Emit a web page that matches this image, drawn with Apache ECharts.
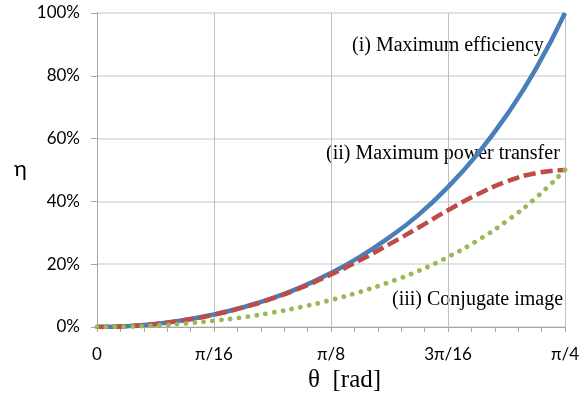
<!DOCTYPE html>
<html>
<head>
<meta charset="utf-8">
<script src="https://cdn.jsdelivr.net/npm/echarts@6/dist/echarts.min.js"></script>
<style>html,body{margin:0;padding:0;background:#fff}#c{width:582px;height:395px}</style>
</head>
<body>
<div id="c"></div>
<script>
// theta in degrees (0 .. 45 = pi/4), sampled every pi/64
var thetaDeg = [0, 2.8125, 5.625, 8.4375, 11.25, 14.0625, 16.875, 19.6875, 22.5, 25.3125, 28.125, 30.9375, 33.75, 36.5625, 39.375, 42.1875, 45];
var maxEfficiency = [0, 0.24, 0.97, 2.2, 4.0, 6.3, 9.2, 12.8, 17.2, 22.4, 28.6, 35.8, 44.6, 55.0, 67.4, 82.1, 100];
var maxPowerTransfer = [0, 0.24, 0.97, 2.2, 3.95, 6.25, 9.1, 12.6, 16.7, 21.3, 26.4, 31.7, 37.2, 42.2, 46.3, 49.0, 50];
var conjugateImage = [0, 0.12, 0.49, 1.1, 2.0, 3.1, 4.6, 6.4, 8.6, 11.2, 14.3, 17.9, 22.3, 27.5, 33.7, 41.1, 50];
var xTickLabels = ['0', 'π/16', 'π/8', '3π/16', 'π/4'];
var seriesNames = ['(i) Maximum efficiency', '(ii) Maximum power transfer', '(iii) Conjugate image'];

function pairs(ys){ return thetaDeg.map(function(x,i){ return [x, ys[i]]; }); }

var chart = echarts.init(document.getElementById('c'), null, {renderer:'canvas'});
var tickFont = 'Lato, "Noto Sans", sans-serif';
var serif = '"Liberation Serif", "DejaVu Serif", serif';
chart.setOption({
  animation: false,
  backgroundColor: '#fff',
  grid: {left: 97, right: 12, top: 13, bottom: 68},
  xAxis: {
    type: 'value', min: 0, max: 45, interval: 11.25,
    axisLine: {show: true, lineStyle: {color: '#a6a6a6', width: 1}},
    axisTick: {show: true, length: 5, lineStyle: {color: '#a6a6a6'}},
    minorTick: {show: true, splitNumber: 5, length: 5, lineStyle: {color: '#a6a6a6'}},
    splitLine: {show: true, lineStyle: {color: '#bfbfbf', width: 1}},
    axisLabel: {
      margin: 19, color: '#000', fontFamily: tickFont, fontSize: 17,
      formatter: function(v){ return xTickLabels[Math.round(v/11.25)]; }
    }
  },
  yAxis: {
    type: 'value', min: 0, max: 100, interval: 20,
    axisLine: {show: true, lineStyle: {color: '#a6a6a6', width: 1}},
    axisTick: {show: true, length: 6, lineStyle: {color: '#a6a6a6'}},
    splitLine: {show: true, lineStyle: {color: '#d9d9d9', width: 1.5}},
    axisLabel: {
      margin: 17, color: '#000', fontFamily: tickFont, fontSize: 17,
      formatter: function(v){ return v + '%'; }
    }
  },
  series: [
    {name: seriesNames[0], type: 'line', smooth: true, symbol: 'none', data: pairs(maxEfficiency),
     lineStyle: {color: '#4a7ebb', width: 4.5}},
    {name: seriesNames[1], type: 'line', smooth: true, symbol: 'none', data: pairs(maxPowerTransfer),
     lineStyle: {color: '#be4b48', width: 4.5, type: [12, 5]}},
    {name: seriesNames[2], type: 'line', smooth: true, symbol: 'none', data: pairs(conjugateImage),
     lineStyle: {color: '#98b954', width: 4.8, type: [0.1, 8.8], cap: 'round'}}
  ],
  graphic: [
    {type: 'text', left: 352, top: 36, style: {text: seriesNames[0], font: '20px ' + serif, fill: '#000'}},
    {type: 'text', left: 326, top: 144, style: {text: seriesNames[1], font: '20px ' + serif, fill: '#000'}},
    {type: 'text', left: 392, top: 290, style: {text: seriesNames[2], font: '20px ' + serif, fill: '#000'}},
    {type: 'text', left: 14, top: 158, style: {text: 'η', font: '22px ' + tickFont, fill: '#000'}},
    {type: 'text', left: 308, top: 368, style: {text: 'θ  [rad]', font: '25px ' + serif, fill: '#000'}}
  ]
});
</script>
</body>
</html>
